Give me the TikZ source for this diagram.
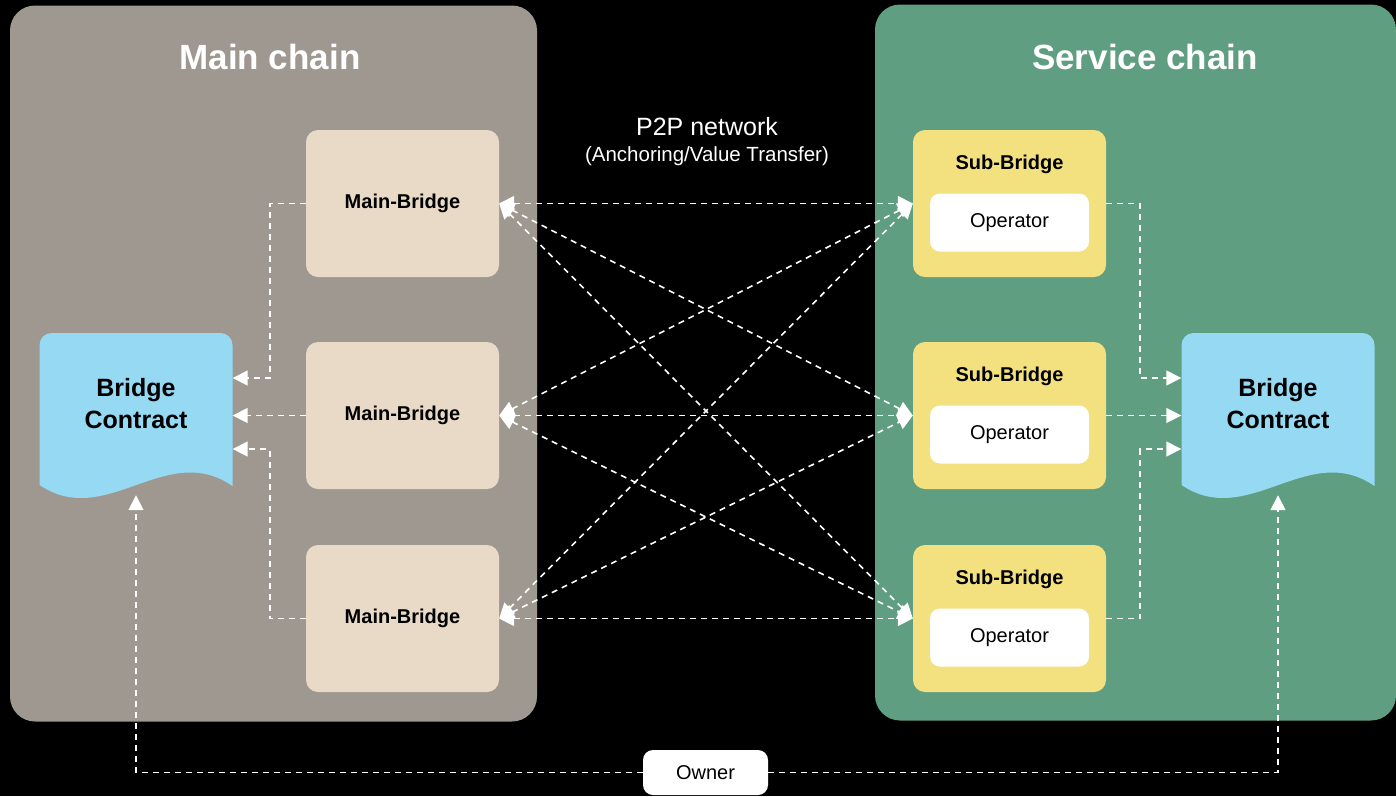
\documentclass[tikz,border=0pt]{standalone}
\usepackage{fontspec}
\setmainfont{Liberation Sans}
\usetikzlibrary{arrows.meta,positioning}

\definecolor{maingray}{RGB}{158,152,145}
\definecolor{svcgreen}{RGB}{95,158,128}
\definecolor{mbbeige}{RGB}{232,218,198}
\definecolor{sbyellow}{RGB}{243,224,127}
\definecolor{bcblue}{RGB}{149,217,242}

\begin{document}
\begin{tikzpicture}[x=1pt, y=-1pt,
    panel/.style={rounded corners=25pt, minimum width=#1, minimum height=716pt, inner sep=0pt},
    title/.style={text=white, font=\fontsize{35}{40}\selectfont\bfseries},
    mbox/.style={fill=#1, rounded corners=12pt, minimum width=193pt, minimum height=147pt, inner sep=0pt},
    bold/.style={font=\fontsize{20}{24}\selectfont\bfseries},
    plain/.style={font=\fontsize{20}{24}\selectfont},
    link/.style={draw=white, line width=1.6pt, dash pattern=on 6pt off 5pt},
    tip/.style={-{Triangle[length=15pt,width=15pt]}},
    both/.style={{Triangle[length=15pt,width=15pt]}-{Triangle[length=15pt,width=15pt]}}]

    % frame
    \fill[black] (0,0) rectangle (1396,796);

    % chains
    \node[panel=527pt, fill=maingray] at (273.5,363.5)(main){};
    \node[panel=521pt, fill=svcgreen] at (1135.5,362.5)(svc){};
    \node[title] at (270,57)(mtitle){Main chain};
    \node[title] at (1145,57)(stitle){Service chain};

    \node[text=white, font=\fontsize{25}{30}\selectfont] at (707,127)(p2p){P2P network};
    \node[text=white, font=\fontsize{20.5}{24}\selectfont] at (707,156)(anchor){(Anchoring/Value Transfer)};

    % bridge contracts
    \foreach \cx/\nm in {136/bcl, 1278/bcr}{
        \fill[bcblue, rounded corners=12pt] (\cx-96.5,460) -- (\cx-96.5,333) -- (\cx+96.5,333)
            -- (\cx+96.5,460) [sharp corners] -- (\cx+96.5,486)
            .. controls (\cx+30,440) and (\cx-30,530) .. (\cx-96.5,485) -- cycle;
        \node[minimum width=193pt, minimum height=160pt, inner sep=0pt] at (\cx,415)(\nm){};
        \node[align=center, font=\fontsize{25}{32}\selectfont\bfseries]
            at ([yshift=11pt]\nm.center)(\nm t){Bridge\\Contract};
    }

    % main-bridges
    \node[mbox=mbbeige, bold] at (402.5,203.5)(mb1){Main-Bridge};
    \node[mbox=mbbeige, bold] at (402.5,415.5)(mb2){Main-Bridge};
    \node[mbox=mbbeige, bold] at (402.5,618.5)(mb3){Main-Bridge};

    % sub-bridges
    \foreach \i/\y in {1/203.5, 2/415.5, 3/618.5}{
        \node[mbox=sbyellow] at (1009.5,\y)(sb\i){};
        \node[bold] at ([yshift=39pt]sb\i.center)(sbl\i){Sub-Bridge};
        \node[fill=white, rounded corners=10pt, minimum width=159pt, minimum height=58pt,
            inner sep=0pt, plain] at ([yshift=-19pt]sb\i.center)(op\i){Operator};
    }

    \node[fill=white, rounded corners=10pt, minimum width=125pt, minimum height=45pt,
        inner sep=0pt, plain] at (705.5,772.5)(own){Owner};

    % p2p links
    \foreach \i in {1,2,3}{
        \foreach \j in {1,2,3}{
            \draw[link, both](mb\i.east) -- (sb\j.west);
        }
    }

    % to contracts
    \draw[link, tip](mb1.west) -- ([xshift=-36pt]mb1.west) |- ([yshift=37pt]bcl.east);
    \draw[link, tip](mb2.west) -- (mb2.west -| bcl.east);
    \draw[link, tip](mb3.west) -- ([xshift=-36pt]mb3.west) |- ([yshift=-34pt]bcl.east);
    \draw[link, tip](sb1.east) -- ([xshift=34pt]sb1.east) |- ([yshift=37pt]bcr.west);
    \draw[link, tip](sb2.east) -- (sb2.east -| bcr.west);
    \draw[link, tip](sb3.east) -- ([xshift=34pt]sb3.east) |- ([yshift=-34pt]bcr.west);

    \draw[link, tip](own.west) -| (bcl.south);
    \draw[link, tip](own.east) -| (bcr.south);
\end{tikzpicture}
\end{document}
